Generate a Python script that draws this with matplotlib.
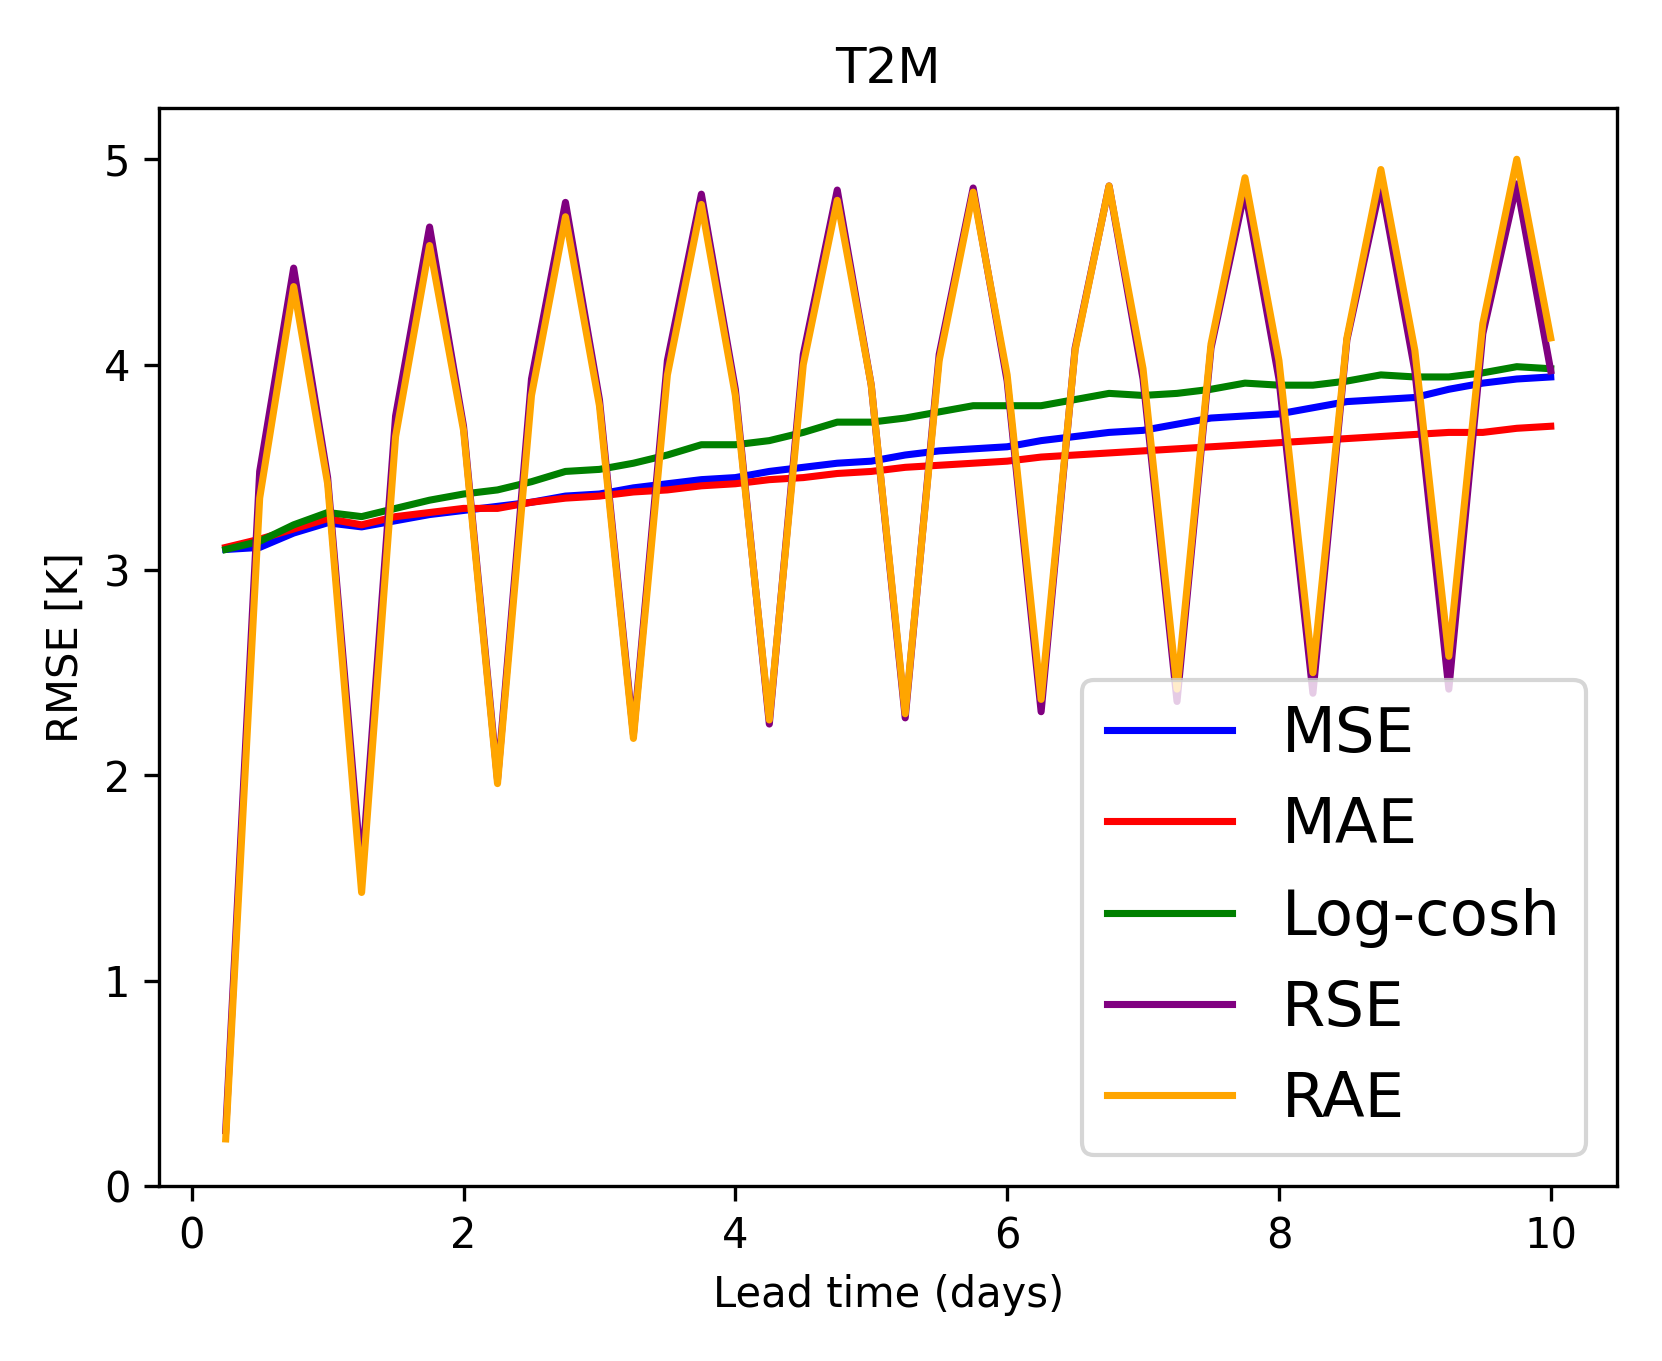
import matplotlib
matplotlib.use("Agg")
import matplotlib.pyplot as plt
import numpy as np

lead_days = np.arange(1, 41) * 0.25

mse = [3.10, 3.11, 3.18, 3.23, 3.21, 3.24, 3.27, 3.29, 3.31, 3.33, 3.36, 3.37, 3.40, 3.42,
       3.44, 3.45, 3.48, 3.50, 3.52, 3.53, 3.56, 3.58, 3.59, 3.60, 3.63, 3.65, 3.67, 3.68,
       3.71, 3.74, 3.75, 3.76, 3.79, 3.82, 3.83, 3.84, 3.88, 3.91, 3.93, 3.94]
mae = [3.11, 3.15, 3.20, 3.25, 3.22, 3.26, 3.28, 3.30, 3.30, 3.33, 3.35, 3.36, 3.38, 3.39,
       3.41, 3.42, 3.44, 3.45, 3.47, 3.48, 3.50, 3.51, 3.52, 3.53, 3.55, 3.56, 3.57, 3.58,
       3.59, 3.60, 3.61, 3.62, 3.63, 3.64, 3.65, 3.66, 3.67, 3.67, 3.69, 3.70]
logcosh = [3.10, 3.14, 3.22, 3.28, 3.26, 3.30, 3.34, 3.37, 3.39, 3.43, 3.48, 3.49, 3.52, 3.56,
           3.61, 3.61, 3.63, 3.67, 3.72, 3.72, 3.74, 3.77, 3.80, 3.80, 3.80, 3.83, 3.86, 3.85,
           3.86, 3.88, 3.91, 3.90, 3.90, 3.92, 3.95, 3.94, 3.94, 3.96, 3.99, 3.98]
rse = [0.27, 3.48, 4.47, 3.45, 1.52, 3.75, 4.67, 3.70, 1.98, 3.93, 4.79, 3.83, 2.20, 4.02,
       4.83, 3.88, 2.25, 4.05, 4.85, 3.90, 2.28, 4.05, 4.86, 3.92, 2.31, 4.08, 4.87, 3.93,
       2.36, 4.08, 4.85, 3.93, 2.40, 4.12, 4.88, 3.97, 2.42, 4.15, 4.88, 3.97]
rae = [0.23, 3.35, 4.38, 3.42, 1.43, 3.65, 4.58, 3.68, 1.96, 3.85, 4.72, 3.80, 2.18, 3.95,
       4.78, 3.85, 2.27, 4.00, 4.80, 3.90, 2.30, 4.02, 4.84, 3.95, 2.37, 4.07, 4.87, 3.98,
       2.42, 4.10, 4.91, 4.02, 2.50, 4.13, 4.95, 4.07, 2.58, 4.20, 5.00, 4.13]

series = [("MSE", mse, "blue"), ("MAE", mae, "red"), ("Log-cosh", logcosh, "green"),
          ("RSE", rse, "purple"), ("RAE", rae, "orange")]

fig, ax = plt.subplots(figsize=(5.54, 4.537), dpi=300)
for name, vals, color in series:
    ax.plot(lead_days, vals, color=color, linewidth=1.7, label=name)

ax.set_ylim(0, 5.25)
ax.set_title("T2M")
ax.set_xlabel("Lead time (days)")
ax.set_ylabel("RMSE [K]")
ax.legend(loc="lower right", fontsize=15)
fig.tight_layout()
fig.savefig("out.png", dpi=300)
